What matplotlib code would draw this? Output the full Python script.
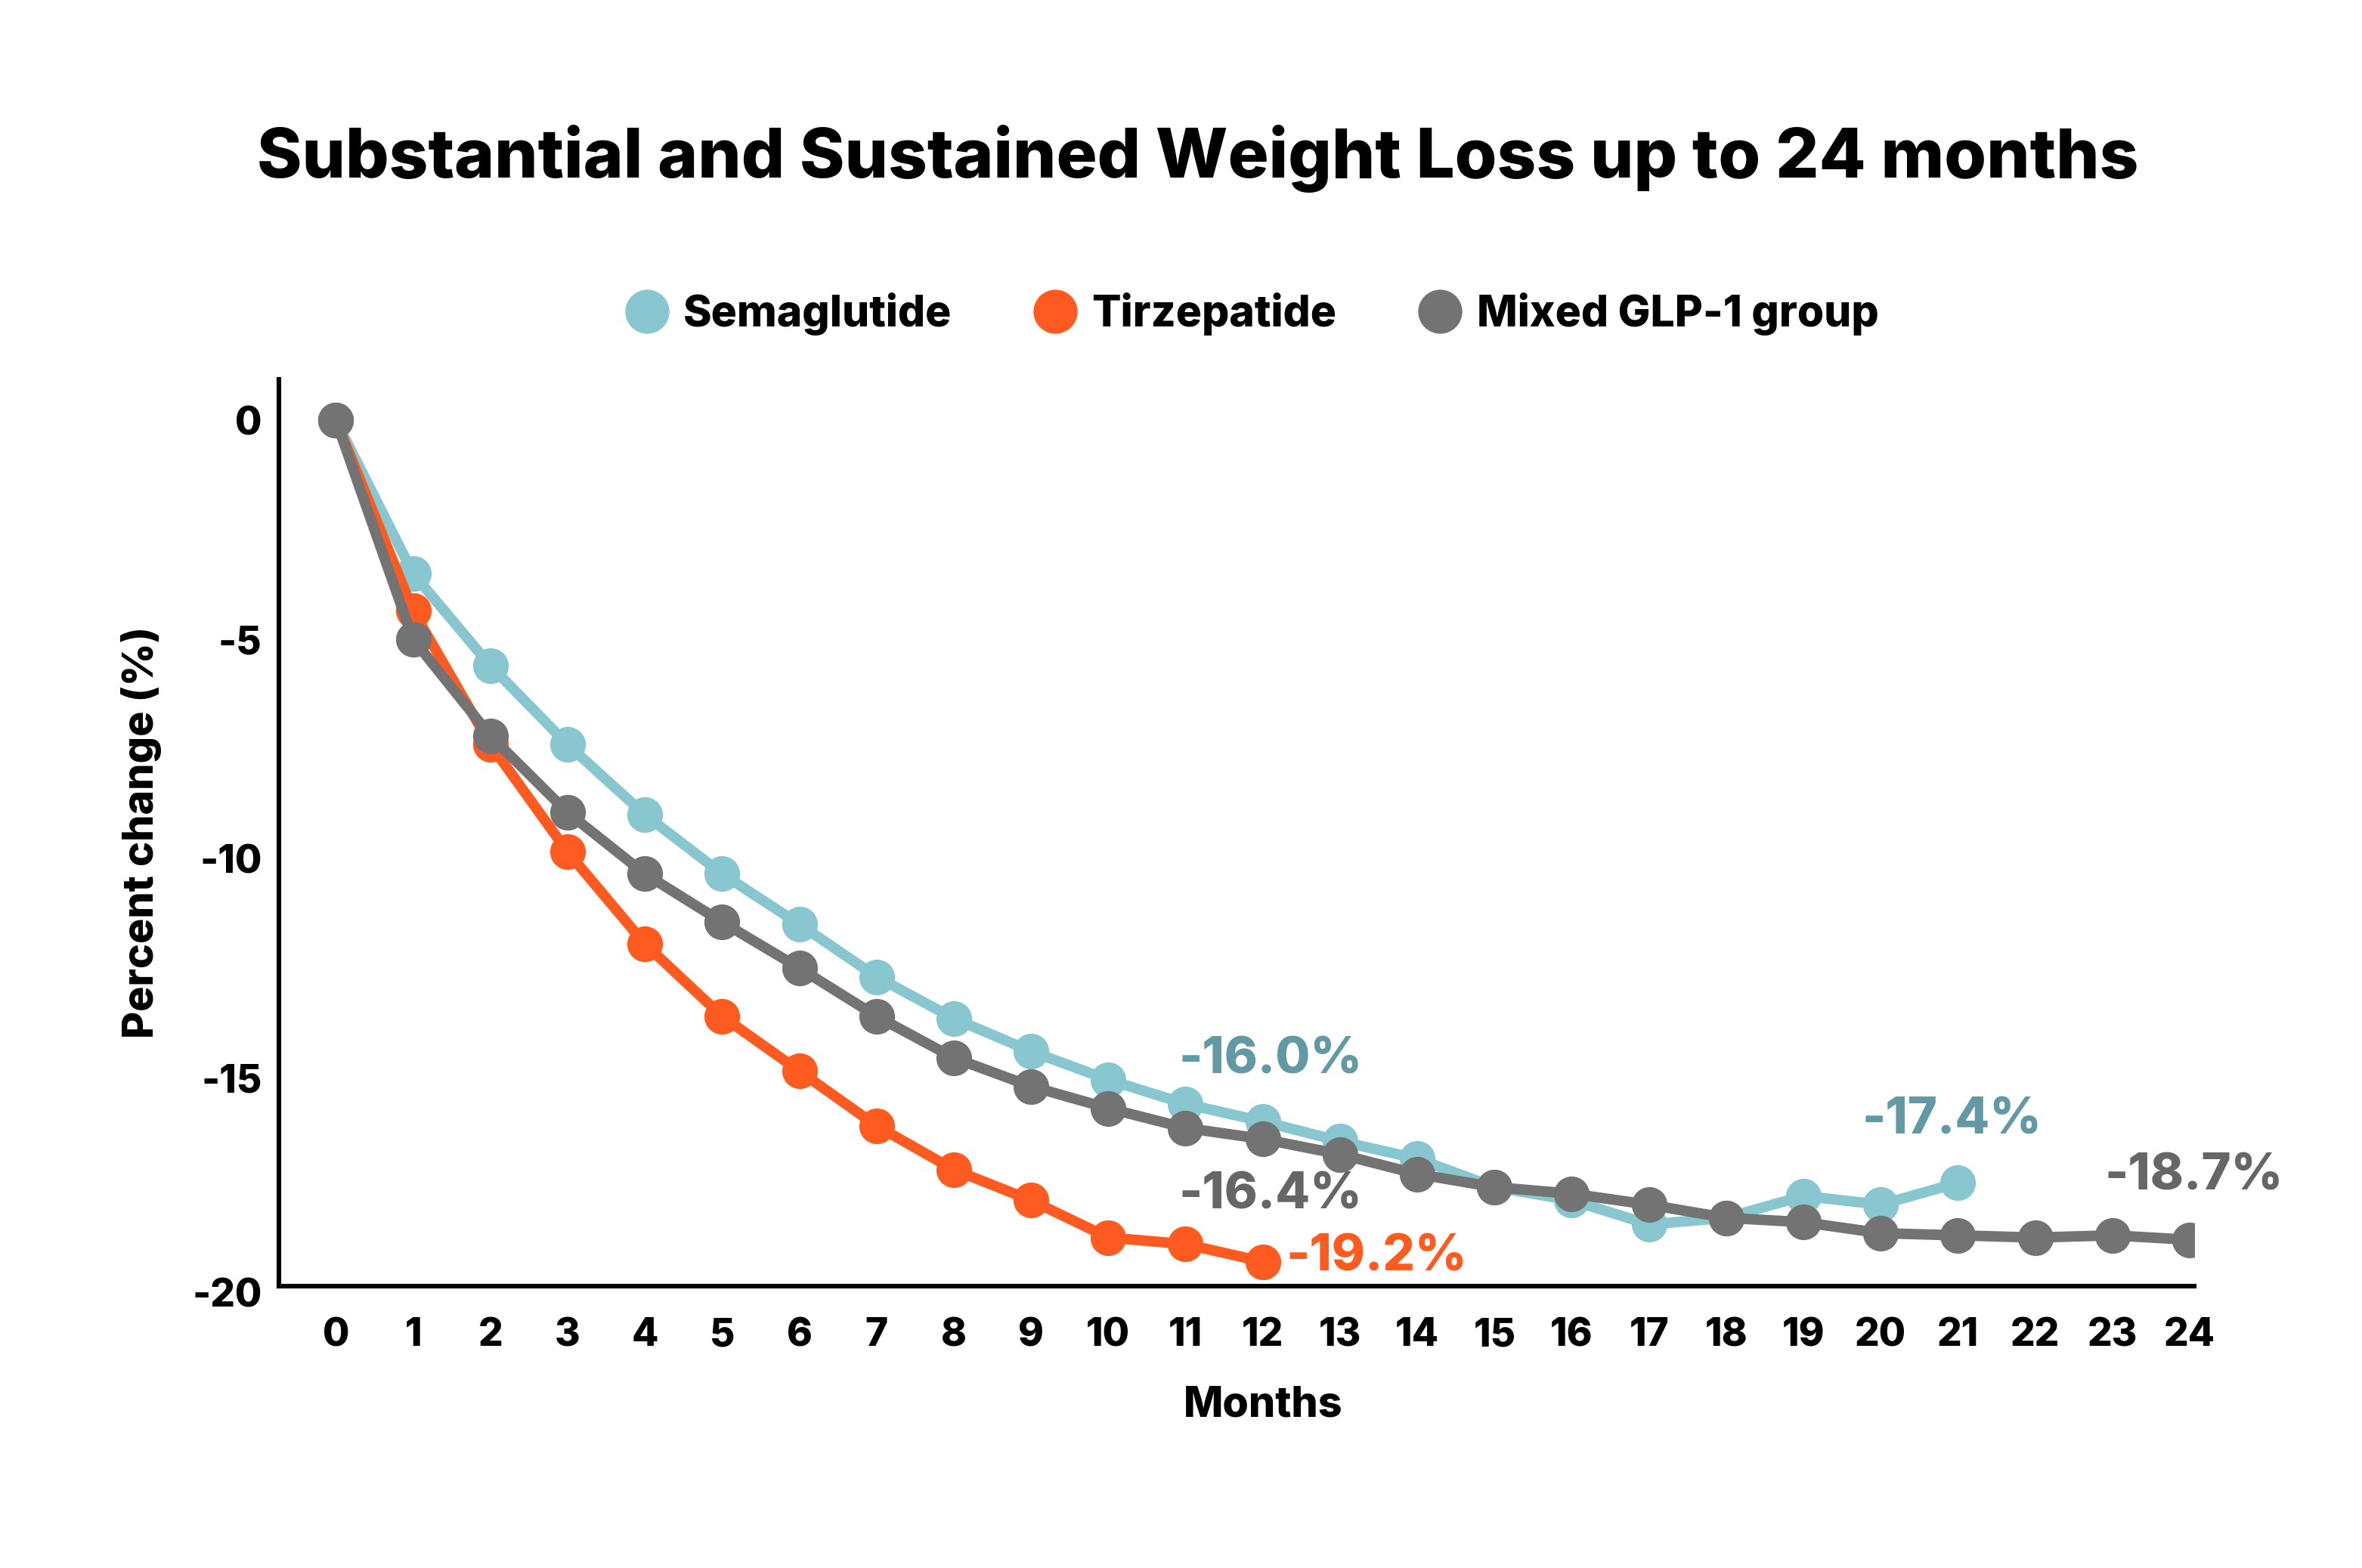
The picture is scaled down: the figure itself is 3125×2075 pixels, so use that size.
import matplotlib
matplotlib.use("Agg")
import matplotlib.pyplot as plt
from matplotlib.lines import Line2D

plt.rcParams['font.family'] = ['Inter', 'DejaVu Sans']
plt.rcParams['font.weight'] = 'heavy'
plt.rcParams['axes.labelweight'] = 'heavy'
plt.rcParams['axes.unicode_minus'] = False

# Data
months = list(range(25))
semaglutide = [0, -3.5, -5.6, -7.4, -9.0, -10.35, -11.5, -12.7, -13.65, -14.4,
               -15.05, -15.6, -16.0, -16.45, -16.85, -17.5, -17.8, -18.35,
               -18.2, -17.7, -17.9, -17.4]
tirzepatide = [0, -4.35, -7.4, -9.85, -11.95, -13.6, -14.85, -16.1, -17.1,
               -17.8, -18.65, -18.8, -19.2]
mixed_glp1 = [0, -5.0, -7.2, -8.95, -10.35, -11.45, -12.5, -13.6, -14.55,
              -15.2, -15.7, -16.15, -16.4, -16.75, -17.2, -17.5, -17.65,
              -17.9, -18.2, -18.3, -18.55, -18.6, -18.65, -18.6, -18.7]
series_names = ['Semaglutide', 'Tirzepatide', 'Mixed GLP-1 group']
y_ticks = [0, -5, -10, -15, -20]

c_sema = '#88C6D0'
c_tirz = '#FF5A1F'
c_mixed = '#737373'
c_sema_txt = '#6199A4'
c_mixed_txt = '#666666'

fig = plt.figure(figsize=(15.625, 10.375), dpi=200)
ax = fig.add_axes([0.118, 0.18, 0.811, 0.578])

line_kw = dict(lw=5, marker='o', ms=16, solid_capstyle='round')
ax.plot(months[:len(semaglutide)], semaglutide, color=c_sema, zorder=3, **line_kw)
ax.plot(months[:len(tirzepatide)], tirzepatide, color=c_tirz, zorder=4, **line_kw)
ax.plot(months, mixed_glp1, color=c_mixed, zorder=5, **line_kw)

ax.set_xlim(-0.74, 24.06)
ax.set_ylim(-19.75, 0.93)
ax.set_xticks(months)
ax.set_yticks(y_ticks[:-1])
ax.tick_params(length=0, labelsize=18.5)
ax.tick_params(axis='x', pad=15)
ax.tick_params(axis='y', pad=8)
# -20 sits just under the baseline in the original, outside the view range
ax.annotate(str(y_ticks[-1]), xy=(0, y_ticks[-1]), xycoords=('axes fraction', 'data'),
            xytext=(-8, 0), textcoords='offset points', ha='right', va='center',
            fontsize=18.5, annotation_clip=False)

for side in ['top', 'right']:
    ax.spines[side].set_visible(False)
for side in ['left', 'bottom']:
    ax.spines[side].set_linewidth(2.2)
    ax.spines[side].set_color('black')

ax.set_xlabel('Months', fontsize=20, labelpad=14)
ax.xaxis.set_label_coords(0.514, -0.11)
ax.set_ylabel('Percent change (%)', fontsize=20, labelpad=18)

# End-point labels
ann = dict(textcoords='offset points', fontsize=24, va='center')
ax.annotate(f'{semaglutide[12]:.1f}%', (12, semaglutide[12]), xytext=(3.6, 29),
            ha='center', color=c_sema_txt, **ann)
ax.annotate(f'{mixed_glp1[12]:.1f}%', (12, mixed_glp1[12]), xytext=(3.6, -27),
            ha='center', color=c_mixed_txt, **ann)
ax.annotate(f'{tirzepatide[12]:.1f}%', (12, tirzepatide[12]), xytext=(11, 2),
            ha='left', color=c_tirz, **ann)
ax.annotate(f'{semaglutide[21]:.1f}%', (21, semaglutide[21]), xytext=(-3, 29.5),
            ha='center', color=c_sema_txt, **ann)
ax.annotate(f'{mixed_glp1[24]:.1f}%', (24, mixed_glp1[24]), xytext=(2, 30),
            ha='center', color=c_mixed_txt, **ann)

handles = [Line2D([], [], ls='none', marker='o', ms=20, color=c)
           for c in (c_sema, c_tirz, c_mixed)]
fig.legend(handles, series_names, loc='center', bbox_to_anchor=(0.53, 0.80),
           ncol=3, frameon=False, fontsize=20.5, handletextpad=0.35,
           columnspacing=1.9, handlelength=1.0)

fig.text(0.507, 0.899, 'Substantial and Sustained Weight Loss up to 24 months',
         ha='center', va='center', fontsize=32.5, fontweight='heavy')

fig.savefig('out.png', dpi=200, facecolor='white')
